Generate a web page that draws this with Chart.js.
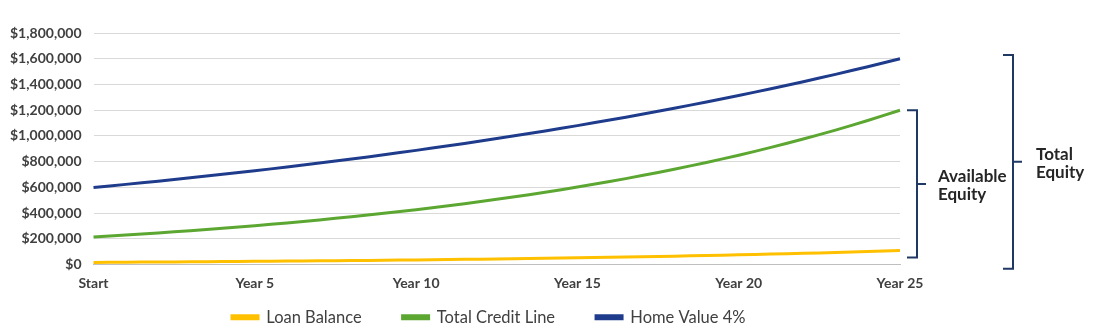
<!DOCTYPE html>
<html>
<head>
<meta charset="utf-8">
<script src="https://cdn.jsdelivr.net/npm/chart.js@4.4.1/dist/chart.umd.min.js"></script>
<style>
  html, body { margin: 0; padding: 0; background: #fff; }
  #wrap { width: 1100px; height: 335px; position: relative; }
</style>
</head>
<body>
<div id="wrap"><canvas id="myChart"></canvas></div>
<script>
// x axis: one point per year, labels only every 5 years
const xLabels = ['Start', '', '', '', '', 'Year 5', '', '', '', '', 'Year 10', '', '', '', '', 'Year 15',
	'', '', '', '', 'Year 20', '', '', '', '', 'Year 25'];

const loanBalance = [18000, 19350, 20800, 22370, 24050, 25850, 27800, 29880, 32130, 34540, 37130,
	39920, 42920, 46140, 49610, 53340, 57340, 61650, 66280, 71260, 76610, 82360, 88540, 95190, 102340, 110030];

const creditLine = [215000, 230300, 246700, 264300, 283100, 303200, 324800, 348000, 372700, 399300, 427700,
	458200, 490800, 525700, 563200, 603300, 646200, 692200, 741500, 794300, 850800, 911400, 976300,
	1045800, 1120300, 1200000];

const homeValue = [600000, 624000, 648960, 674920, 701920, 729990, 759190, 789560, 821140, 853990, 888150,
	923670, 960620, 999040, 1039010, 1080570, 1123790, 1168740, 1215490, 1264110, 1314670, 1367260,
	1421950, 1478830, 1537980, 1599500];

const seriesNames = ['Loan Balance', 'Total Credit Line', 'Home Value 4%'];
const seriesColors = ['#FFC000', '#5CA732', '#1F3C8C'];

// brackets on the right side
const brackets = [
	{ text: ['Available', 'Equity'], top: 1200000, bottom: 55000, x: 917, textX: 938 },
	{ text: ['Total', 'Equity'], top: 1630000, bottom: -32000, x: 1013, textX: 1036 }
];

const FONT = 'Lato, "Open Sans", sans-serif';

const bracketPlugin = {
	id: 'brackets',
	afterDraw(chart) {
		const ctx = chart.ctx;
		const y = chart.scales.y;
		ctx.save();
		ctx.strokeStyle = '#1F3864';
		ctx.lineWidth = 2;
		brackets.forEach(b => {
			const t = y.getPixelForValue(b.top);
			const btm = y.getPixelForValue(b.bottom);
			const mid = (t + btm) / 2;
			ctx.beginPath();
			ctx.moveTo(b.x - 10, t);
			ctx.lineTo(b.x, t);
			ctx.lineTo(b.x, btm);
			ctx.lineTo(b.x - 10, btm);
			ctx.moveTo(b.x, mid);
			ctx.lineTo(b.x + 9, mid);
			ctx.stroke();
			ctx.fillStyle = '#262626';
			ctx.font = 'bold 17px ' + FONT;
			ctx.textBaseline = 'middle';
			ctx.textAlign = 'left';
			ctx.fillText(b.text[0], b.textX, mid - 7);
			ctx.fillText(b.text[1], b.textX, mid + 11);
		});
		ctx.restore();
	}
};

// put the legend under the plot area (nearly centred on it), close to the x labels
const legendShift = {
	id: 'legendShift',
	afterLayout(chart) {
		const lg = chart.legend;
		const c = (chart.chartArea.left + chart.chartArea.right) / 2 - 8;
		const d = c - (lg.left + lg.right) / 2;
		lg.left += d;
		lg.right += d;
		const h = lg.bottom - lg.top;
		lg.top = chart.height - 67;
		lg.bottom = lg.top + h;
	}
};

const data = {
	labels: xLabels,
	datasets: [loanBalance, creditLine, homeValue].map((vals, i) => ({
		label: seriesNames[i],
		data: vals,
		borderColor: seriesColors[i],
		backgroundColor: seriesColors[i],
		borderWidth: 3,
		pointRadius: 0,
		tension: 0.3
	}))
};

const config = {
	type: 'line',
	data: data,
	options: {
		responsive: true,
		maintainAspectRatio: false,
		animation: false,
		layout: { padding: { left: -2, right: 200, top: 33, bottom: -26 } },
		plugins: {
			legend: {
				position: 'bottom',
				labels: {
					boxWidth: 26,
					boxHeight: 3,
					padding: 41,
					color: '#404040',
					font: { family: FONT, size: 16.5 }
				}
			},
			tooltip: { enabled: false }
		},
		scales: {
			x: {
				grid: { display: false },
				border: { color: '#BFBFBF' },
				ticks: {
					autoSkip: false,
					maxRotation: 0,
					padding: 2,
					color: '#404040',
					font: { family: FONT, size: 14, weight: 'bold' }
				}
			},
			y: {
				min: 0,
				max: 1800000,
				border: { display: false },
				grid: {
					color: ctx => ctx.tick.value === 0 ? '#BFBFBF' : '#D9D9D9',
					drawTicks: false
				},
				ticks: {
					stepSize: 200000,
					padding: 12,
					color: '#404040',
					font: { family: FONT, size: 14, weight: 'bold' },
					callback: v => '$' + v.toLocaleString('en-US')
				}
			}
		}
	},
	plugins: [bracketPlugin, legendShift]
};

const myChart = new Chart(document.getElementById('myChart'), config);
</script>
</body>
</html>
